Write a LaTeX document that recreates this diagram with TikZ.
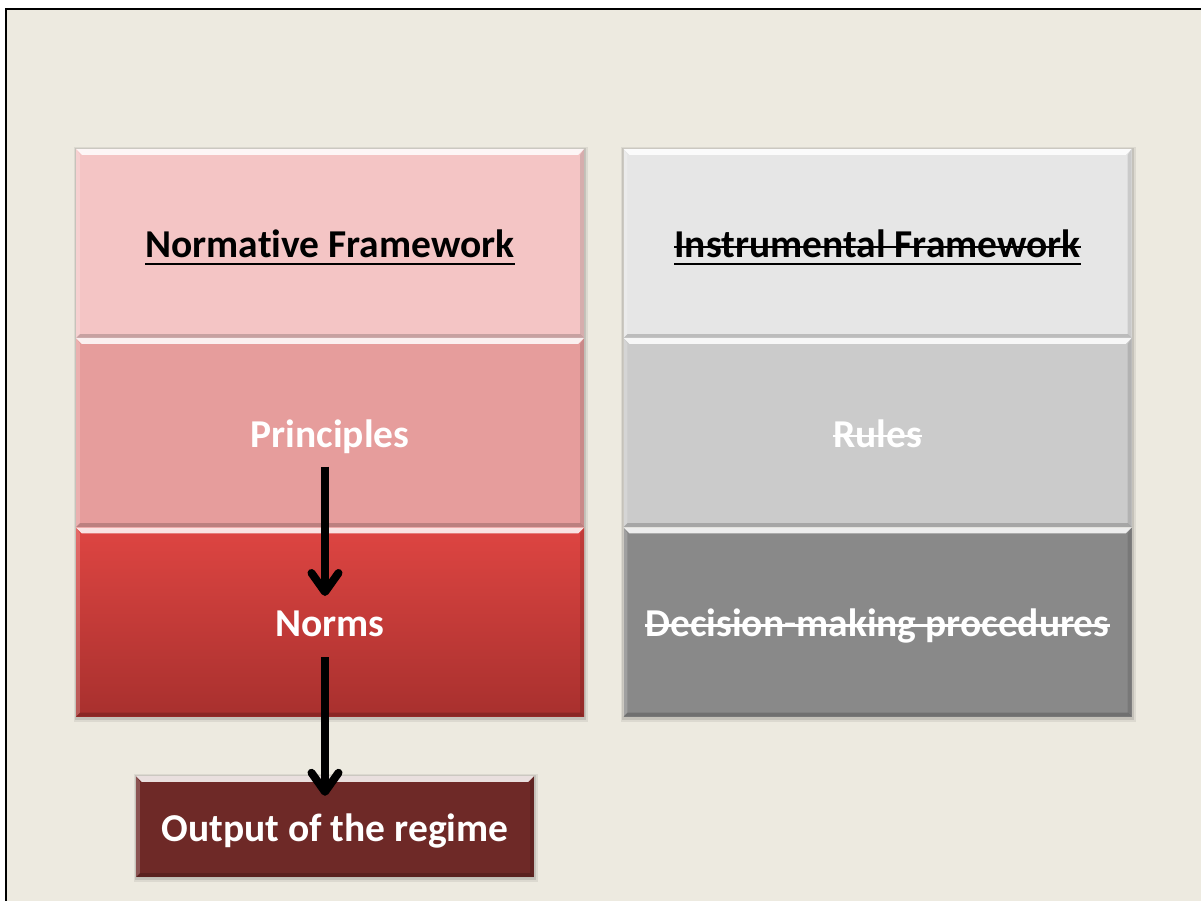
\documentclass[tikz,border=0pt]{standalone}
\usepackage{fontspec}
\setmainfont{Carlito}[Ligatures=CommonOff]
\usetikzlibrary{arrows.meta,backgrounds}

\definecolor{paper}{HTML}{EDEAE0}
\definecolor{normA}{HTML}{F4C5C5}
\definecolor{normB}{HTML}{E69D9C}
\definecolor{normTop}{HTML}{DE4542}
\definecolor{normBot}{HTML}{A8302E}
\definecolor{outC}{HTML}{6E2927}
\definecolor{instA}{HTML}{E6E6E6}
\definecolor{instB}{HTML}{CBCBCB}
\definecolor{instC}{HTML}{898989}

\tikzset{
  tile/.style={rectangle, inner sep=0pt, minimum width=508pt, minimum height=189pt},
  outtile/.style={rectangle, inner sep=0pt, minimum width=398pt, minimum height=101pt, fill=outC},
  lbl/.style={inner sep=0pt, anchor=base, font=\fontsize{39.5}{44}\selectfont\bfseries},
  flow/.style={line width=8pt, -{Straight Barb[length=19pt,width=27pt,round]}},
  rulebar/.style={line width=2.8pt},
}

% bevelled edges of a tile
\newcommand{\bevelbox}[1]{%
  \fill[white,opacity=.85] (#1.north west) -- (#1.north east)
     -- ([xshift=-6pt,yshift=-6pt]#1.north east) -- ([xshift=6pt,yshift=-6pt]#1.north west) -- cycle;
  \fill[white,opacity=.2] (#1.north west) -- ([xshift=4pt,yshift=-6pt]#1.north west)
     -- ([xshift=4pt,yshift=4pt]#1.south west) -- (#1.south west) -- cycle;
  \fill[black,opacity=.12] (#1.north east) -- ([xshift=-4pt,yshift=-6pt]#1.north east)
     -- ([xshift=-4pt,yshift=4pt]#1.south east) -- (#1.south east) -- cycle;
  \fill[black,opacity=.18] (#1.south west) -- (#1.south east)
     -- ([xshift=-4pt,yshift=4pt]#1.south east) -- ([xshift=4pt,yshift=4pt]#1.south west) -- cycle;
}
\newcommand{\lineunder}[2]{\draw[rulebar,#2] ([yshift=-6pt]#1.base west) -- ([yshift=-6pt]#1.base east);}
\newcommand{\linethrough}[2]{\draw[rulebar,#2] ([yshift=11pt]#1.base west) -- ([yshift=11pt]#1.base east);}

\begin{document}
\begin{tikzpicture}[x=1pt,y=-1pt]
\useasboundingbox (0,0) rectangle (1201,901);

% left column: normative framework
\node[tile, fill=normA] (nf) at (330,243.5) {};
\node[tile, fill=normB] (pb) at (330,432.5) {};
\node[tile, top color=normTop, bottom color=normBot] (nb) at (330,622) {};
% right column: instrumental framework
\node[tile, fill=instA] (if) at (877.5,243.5) {};
\node[tile, fill=instB] (rb) at (877.5,432.5) {};
\node[tile, fill=instC] (db) at (877.5,622) {};
% output
\node[outtile] (ob) at (335,826.5) {};

\foreach \b in {nf,pb,nb,if,rb,db,ob} {\bevelbox{\b}}

% labels, set on a baseline just below each tile's centre
\node[lbl, text=black] (nft) at ([yshift=-14.5pt]nf.center) {Normative Framework};
\node[lbl, text=white] (pr) at ([yshift=-14.5pt]pb.center) {Principles};
\node[lbl, text=white] (no) at ([yshift=-14.5pt]nb.center) {Norms};
\node[lbl, text=black] (ift) at ([yshift=-14.5pt]if.center) {Instrumental Framework};
\node[lbl, text=white] (ru) at ([yshift=-14.5pt]rb.center) {Rules};
\node[lbl, text=white] (dm) at ([yshift=-14.5pt]db.center) {Decision-making procedures};
\node[lbl, text=white] (ot) at ([yshift=-14.5pt]ob.center) {Output of the regime};

\lineunder{nft}{black}
\lineunder{ift}{black}
\linethrough{ift}{black}
\linethrough{ru}{white}
\linethrough{dm}{white}

% flow arrows
\draw[flow] ([xshift=-5pt,yshift=-34pt]pb.center) -- ([xshift=-5pt,yshift=26pt]nb.center);
\draw[flow] ([xshift=-5pt,yshift=-35pt]nb.center) -- ([xshift=-10pt,yshift=-20pt]ob.north);

\begin{scope}[on background layer]
  \fill[white] (0,0) rectangle (1201,901);
  \fill[paper] (6,9) rectangle (1201,901);
  \draw[line width=2pt] (1201,9) -- (6,9) -- (6,901);
  % soft shadows under the tiles
  \foreach \a/\c in {nf/nb,if/db,ob/ob} {
    \fill[black,opacity=.07] ([xshift=-2pt,yshift=2pt]\a.north west) rectangle ([xshift=4pt,yshift=-5pt]\c.south east);
    \fill[black,opacity=.10] ([xshift=-1pt,yshift=1pt]\a.north west) rectangle ([xshift=2pt,yshift=-3pt]\c.south east);
  }
\end{scope}
\end{tikzpicture}
\end{document}
